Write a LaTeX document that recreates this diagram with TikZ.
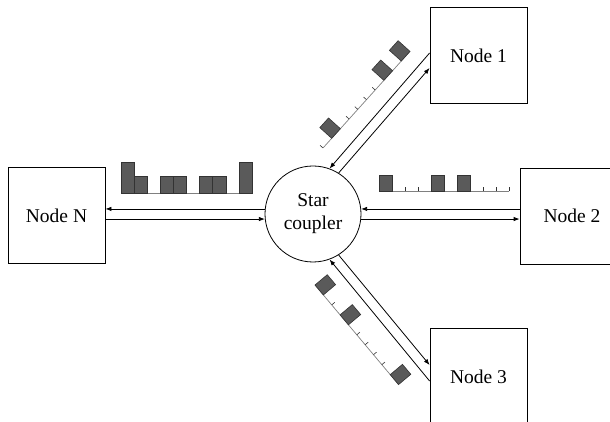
\documentclass[tikz,border=0pt]{standalone}
\usepackage{fontspec}
\setmainfont{Liberation Serif}
\usetikzlibrary{arrows.meta}

\definecolor{pktfill}{HTML}{5A5A5A}
\definecolor{pktedge}{HTML}{333333}
\definecolor{pktline}{HTML}{808080}

\tikzset{
  nodebox/.style={draw, line width=0.8pt, minimum width=97pt, minimum height=96pt, inner sep=0pt},
  coupler/.style={draw, circle, line width=0.8pt, minimum size=96pt, inner sep=0pt, align=center},
  link/.style={-{Latex[length=6pt,width=4.5pt]}, line width=0.8pt},
  trainline/.style={draw=pktline, line width=0.7pt},
  slotbar/.style={draw=pktedge, fill=pktfill, line width=0.6pt},
  tickmark/.style={draw=pktedge, line width=0.6pt}
}

\begin{document}
\begin{tikzpicture}[x=1pt, y=1pt, font=\fontsize{19.5}{23}\selectfont]
  \useasboundingbox (0,0) rectangle (610,422);

  % Nodes
  \node[coupler] (sc) at (313,208) {Star\\coupler};
  \node[nodebox] (n1) at (478.5,366.5) {Node 1};
  \node[nodebox, minimum width=104pt] (n2) at (572,206) {Node 2};
  \node[nodebox] (n3) at (478.5,45.5) {Node 3};
  \node[nodebox] (nN) at (56.5,206.5) {Node N};

  % Fibre ends on the node boxes
  \coordinate (n1in) at ([yshift=2.5pt]n1.west);
  \coordinate (n1out) at ([yshift=-12.5pt]n1.west);
  \coordinate (n3in) at ([yshift=-4.5pt]n3.west);
  \coordinate (n3out) at ([yshift=11.5pt]n3.west);

  % Links
  \draw[link] (n1in) -- (sc.70);
  \draw[link] (sc.58) -- (n1out);
  \draw[link] (sc.6 -| n2.west) -- (sc.6);
  \draw[link] (sc.-6) -- (sc.-6 -| n2.west);
  \draw[link] (n3in) -- (sc.-70);
  \draw[link] (sc.-58) -- (n3out);
  \draw[link] (sc.174) -- (sc.174 -| nN.east);
  \draw[link] (sc.186 -| nN.east) -- (sc.186);

  % Packets towards Node 1
  \begin{scope}[shift={(323,274)}, rotate=48]
    \draw[trainline] (0,0) -- (130,0);
    \foreach \s in {1,7,9} \draw[slotbar] (\s*13,0) rectangle ++(13,16);
    \foreach \t in {0,3,4,5,6} \draw[tickmark] (\t*13,0) -- ++(0,4);
  \end{scope}

  % Packets towards Node 2
  \begin{scope}[shift={(379,230.5)}]
    \draw[trainline] (0,0) -- (130,0);
    \foreach \s in {0,4,6} \draw[slotbar] (\s*13,0) rectangle ++(13,16.5);
    \foreach \t in {2,3,8,9,10} \draw[tickmark] (\t*13,0) -- ++(0,4);
  \end{scope}

  % Packets towards Node 3
  \begin{scope}[shift={(315,137)}, rotate=-50]
    \draw[trainline] (0,0) -- (130,0);
    \foreach \s in {0,3,9} \draw[slotbar] (\s*13,0) rectangle ++(13,16);
    \foreach \t in {2,5,6,7,8} \draw[tickmark] (\t*13,0) -- ++(0,4);
  \end{scope}

  % Packets from Node N
  \begin{scope}[shift={(121,229)}]
    \draw[trainline] (0,0) -- (131,0);
    \foreach \s/\h in {0/31,1/17,3/17,4/17,6/17,7/17,9/31}
      \draw[slotbar] (\s*13.1,0) rectangle ++(13.1,\h);
  \end{scope}
\end{tikzpicture}
\end{document}
